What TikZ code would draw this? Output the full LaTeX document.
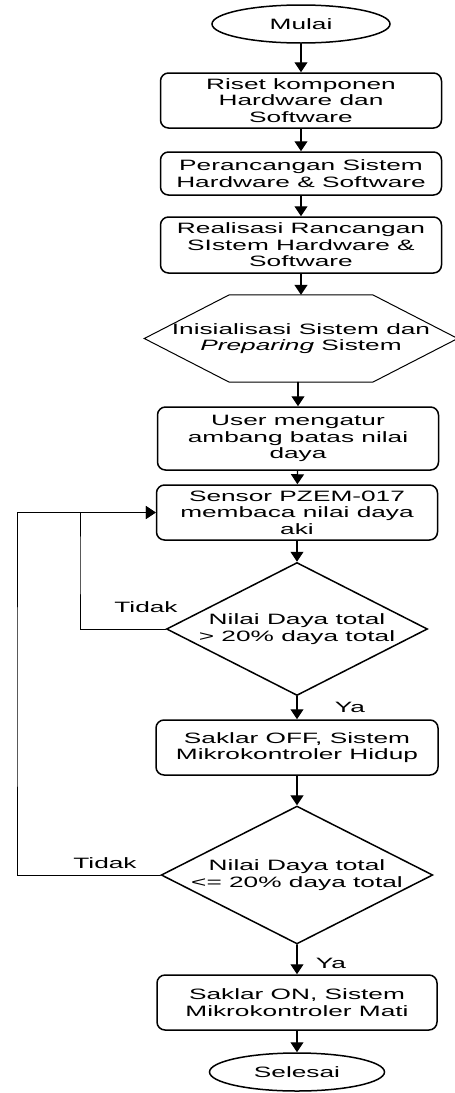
\documentclass[tikz,border=0pt]{standalone}
\usepackage{fontspec}
\setmainfont{Liberation Sans}[FakeStretch=1.75]
\usetikzlibrary{shapes.geometric,arrows.meta}

\begin{document}
\begin{tikzpicture}[x=1pt, y=-1pt,
                    >={Triangle[width=13pt,length=10pt]}, line cap=round,
                    every node/.style={font=\fontsize{15}{16.5}\selectfont, align=center},
                    term/.style={ellipse, draw, line width=1.5pt, minimum width=178pt,
                                 minimum height=38pt, inner sep=0pt},
                    proc/.style={rectangle, draw, rounded corners=8pt, line width=1.5pt,
                                 minimum width=281pt, inner sep=0pt},
                    decide/.style={diamond, draw, line width=1.5pt, aspect=1.97, inner sep=0pt,
                                   minimum width=261pt, minimum height=133pt},
                    flow/.style={->, line width=1.2pt},
                    back/.style={->, line width=0.8pt}
                   ]
    \useasboundingbox (0,0) rectangle (455,1093);

    \node [term] (mulai) at (301,24) {Mulai};
    \node [proc, minimum height=55pt] (riset) at (301,100.5)
        {Riset komponen\\Hardware dan\\Software};
    \node [proc, minimum height=43pt] (rancang) at (301,173.5)
        {Perancangan Sistem\\Hardware \& Software};
    \node [proc, minimum height=56pt] (realisasi) at (301,245)
        {Realisasi Rancangan\\SIstem Hardware \&\\Software};

    % hexagon: plain node, outline drawn by hand
    \node [minimum width=313pt, minimum height=87pt, inner sep=0pt] (init) at (301,338.5)
        {Inisialisasi Sistem dan\\\textit{Preparing} Sistem};
    \draw [line width=1pt] (init.west) -- ([xshift=85pt]init.north west)
        -- ([xshift=-85pt]init.north east) -- (init.east)
        -- ([xshift=-85pt]init.south east) -- ([xshift=85pt]init.south west) -- cycle;

    \node [proc, minimum height=63pt] (user) at (298,438.5)
        {User mengatur\\ambang batas nilai\\daya};
    \node [proc, minimum height=55pt] (sensor) at (297,512.5)
        {Sensor PZEM-017\\membaca nilai daya\\aki};
    \node [decide] (cek1) at (297,629)
        {Nilai Daya total\\> 20\% daya total};
    \node [proc, minimum height=55pt, minimum width=282pt] (off) at (297,747.5)
        {Saklar OFF, Sistem\\Mikrokontroler Hidup};
    \node [decide] (cek2) at (297,875)
        {Nilai Daya total\\<= 20\% daya total};
    \node [proc, minimum height=55pt, minimum width=280pt] (on) at (297,1002.5)
        {Saklar ON, Sistem\\Mikrokontroler Mati};
    \node [term, minimum width=175pt] (selesai) at (297,1072) {Selesai};

    \coordinate (loopin) at (80,560);
    \coordinate (loopout) at (17,700);

    \draw [flow] (mulai) -- (riset);
    \draw [flow] (riset) -- (rancang);
    \draw [flow] (rancang) -- (realisasi);
    \draw [flow] (realisasi) -- (init);
    \draw [flow] (init.south -| user) -- (user);
    \draw [flow] (user) -- (sensor);
    \draw [flow] (sensor) -- (cek1);
    \draw [flow] (cek1) -- (off);
    \draw [flow] (off) -- (cek2);
    \draw [flow] (cek2) -- (on);
    \draw [flow] (on) -- (selesai);

    \draw [back] (cek1.west) -| (loopin) |- (sensor.west);
    \draw [back] (cek2.west) -| (loopout) |- (sensor.west);

    \node (tidak1) at (146,607) {Tidak};
    \node (ya1) at (350,707) {Ya};
    \node (tidak2) at (105,863) {Tidak};
    \node (ya2) at (331,963) {Ya};

  \end{tikzpicture}
\end{document}
